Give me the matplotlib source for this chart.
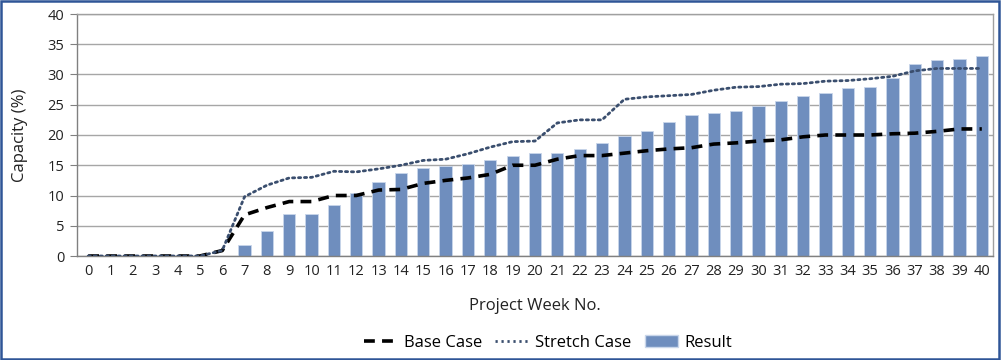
import matplotlib
matplotlib.use("Agg")
import matplotlib.pyplot as plt
from matplotlib.patches import Rectangle
from matplotlib.lines import Line2D
from matplotlib.patches import Patch

weeks = list(range(0, 41))
week_labels = [str(w) for w in weeks]

result = [0, 0, 0, 0, 0, 0, 0, 1.9, 4.1, 7.0, 7.0, 8.4, 10.4, 12.2, 13.7, 14.5,
          14.9, 15.2, 15.9, 16.5, 17.0, 17.1, 17.7, 18.6, 19.9, 20.7, 22.2, 23.3,
          23.7, 24.0, 24.8, 25.7, 26.4, 26.9, 27.8, 27.9, 29.4, 31.8, 32.4, 32.6, 33.0]
base_case = [0, 0, 0, 0, 0, 0, 0.9, 6.8, 8.0, 9.0, 9.0, 10.0, 10.0, 10.9, 11.0, 12.0,
             12.5, 12.9, 13.5, 15.0, 15.0, 16.0, 16.6, 16.6, 17.0, 17.4, 17.7, 17.9,
             18.5, 18.7, 19.0, 19.2, 19.7, 20.0, 20.0, 20.0, 20.2, 20.3, 20.6, 21.0, 21.0]
stretch_case = [0, 0, 0, 0, 0, 0, 0.9, 9.8, 11.7, 12.9, 13.0, 14.0, 13.9, 14.4, 15.0, 15.8,
                16.0, 16.9, 18.0, 18.9, 19.0, 22.0, 22.5, 22.5, 25.9, 26.3, 26.5, 26.7,
                27.4, 27.9, 28.0, 28.4, 28.5, 28.9, 29.0, 29.3, 29.7, 30.6, 31.0, 31.0, 31.0]

plt.rcParams['font.family'] = ['Open Sans', 'DejaVu Sans']

fig = plt.figure(figsize=(10.01, 3.60), dpi=100)
ax = fig.add_axes([77 / 1001, 1 - 256 / 360, (993 - 77) / 1001, (256 - 14) / 360])

bar_color = '#6F8EBE'
base_style = (0, (3.0, 2.0))
stretch_style = (0, (0.8, 1.35))
ax.bar(weeks, result, width=0.55, color=bar_color, edgecolor='#C9D6EA', linewidth=0.6, zorder=2)
ax.plot(weeks, base_case, color='black', linestyle=base_style, linewidth=2.6, zorder=3)
ax.plot(weeks, stretch_case, color='#3A4E6E', linestyle=stretch_style, linewidth=2.0,
        zorder=3, dash_capstyle='round')

ax.set_xlim(-0.5, 40.5)
ax.set_ylim(0, 40)
ax.set_yticks(range(0, 41, 5))
ax.set_xticks(weeks)
ax.set_xticklabels(week_labels)
ax.tick_params(axis='both', labelsize=10.5, colors='#222222', length=0, pad=6)
ax.tick_params(axis='y', length=5, color='#808080', direction='out', pad=4)
ax.yaxis.grid(True, color='#A6A6A6', linewidth=1.0, zorder=0)
ax.set_axisbelow(True)
for side in ['top', 'right']:
    ax.spines[side].set_color('#A0A0A0')
    ax.spines[side].set_linewidth(1.0)
for side in ['left', 'bottom']:
    ax.spines[side].set_color('#808080')
    ax.spines[side].set_linewidth(1.0)

ax.set_ylabel('Capacity (%)', fontsize=12, color='#222222')
ax.set_xlabel('Project Week No.', fontsize=12, color='#222222')
ax.yaxis.set_label_coords(-0.0535, 0.5)
ax.xaxis.set_label_coords(0.5, -0.174)

handles = [Line2D([0], [0], color='black', linestyle=base_style, linewidth=2.6),
           Line2D([0], [0], color='#3A4E6E', linestyle=stretch_style, linewidth=2.0),
           Patch(facecolor=bar_color, edgecolor='#C9D6EA')]
fig.legend(handles, ['Base Case', 'Stretch Case', 'Result'], loc='center',
           bbox_to_anchor=(548 / 1001, 1 - 343 / 360), ncol=3, frameon=False, fontsize=12,
           handlelength=2.0, columnspacing=0.8, handletextpad=0.4, borderpad=0.2)

fig.add_artist(Rectangle((0.001, 0.003), 0.997, 0.994, transform=fig.transFigure,
                         fill=False, edgecolor='#2F5597', linewidth=1.8))

fig.savefig('out.png', dpi=100)
